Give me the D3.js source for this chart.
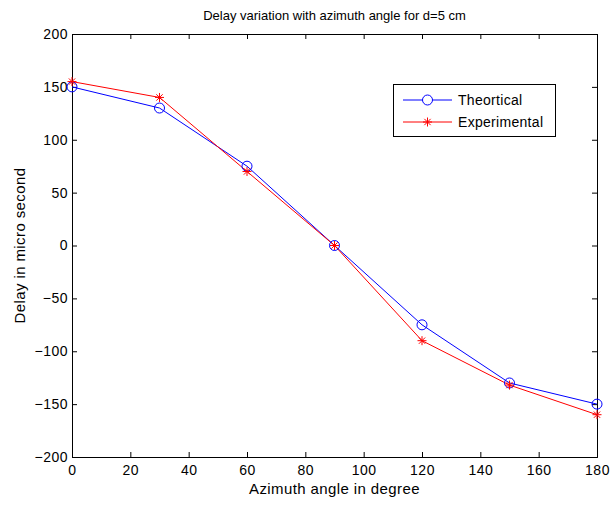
<!DOCTYPE html>
<html><head><meta charset="utf-8">
<script src="https://cdn.jsdelivr.net/npm/d3@7"></script>
<style>body{margin:0;background:#fff}svg{display:block}text{font-family:Arial,"Liberation Sans",sans-serif;fill:#000}</style>
</head><body>
<script>
const angles = [0, 30, 60, 90, 120, 150, 180];
const theoretical = [150, 130, 75, 0, -75, -130, -150];
const experimental = [155, 140, 70, 0, -90, -132, -160];
const xTicks = [0, 20, 40, 60, 80, 100, 120, 140, 160, 180];
const yTicks = [-200, -150, -100, -50, 0, 50, 100, 150, 200];
const seriesNames = ["Theortical", "Experimental"];

const W = 610, H = 507;
const m = {l: 72, r: 13, t: 34, b: 50};
const svg = d3.select("body").append("svg").attr("width", W).attr("height", H);
const x = d3.scaleLinear().domain([0, 180]).range([m.l, W - m.r]);
const y = d3.scaleLinear().domain([-200, 200]).range([H - m.b, m.t]);

const fs = 14;
// axes
const gx = svg.append("g").attr("transform", `translate(0,${H - m.b})`)
  .call(d3.axisBottom(x).tickValues(xTicks).tickSize(-5).tickPadding(8));
const gxt = svg.append("g").attr("transform", `translate(0,${m.t})`)
  .call(d3.axisTop(x).tickValues(xTicks).tickSize(-5).tickFormat(""));
const gy = svg.append("g").attr("transform", `translate(${m.l},0)`)
  .call(d3.axisLeft(y).tickValues(yTicks).tickSize(-5).tickPadding(4));
const gyr = svg.append("g").attr("transform", `translate(${W - m.r},0)`)
  .call(d3.axisRight(y).tickValues(yTicks).tickSize(-5).tickFormat(""));
[gx, gxt, gy, gyr].forEach(g => {
  g.select(".domain").attr("stroke", "#000").attr("stroke-width", 1);
  g.selectAll(".tick line").attr("stroke", "#000");
  g.selectAll("text").attr("font-size", fs).style("letter-spacing", "0.5px")
    .style("font-family", "Arial, 'Liberation Sans', sans-serif");
});

const colors = ["#0000ff", "#ff0000"];
const data = [theoretical, experimental];
const line = d3.line().x((d, i) => x(angles[i])).y(d => y(d));
data.forEach((s, k) => {
  svg.append("path").datum(s).attr("d", line).attr("fill", "none").attr("stroke", colors[k]).attr("stroke-width", 1);
});

function star(g, cx, cy, c, r) {
  const p = d3.path();
  p.moveTo(cx - r, cy); p.lineTo(cx + r, cy);
  p.moveTo(cx, cy - r); p.lineTo(cx, cy + r);
  const a = r * 0.7;
  p.moveTo(cx - a, cy - a); p.lineTo(cx + a, cy + a);
  p.moveTo(cx - a, cy + a); p.lineTo(cx + a, cy - a);
  g.append("path").attr("d", p.toString()).attr("stroke", c).attr("stroke-width", 1).attr("fill", "none");
}

svg.append("g").selectAll("circle").data(theoretical).join("circle")
  .attr("cx", (d, i) => x(angles[i])).attr("cy", d => y(d)).attr("r", 5)
  .attr("fill", "none").attr("stroke", colors[0]);
const sg = svg.append("g");
experimental.forEach((d, i) => star(sg, x(angles[i]), y(d), colors[1], 4.5));

// legend
const lg = svg.append("g");
lg.append("rect").attr("x", 393.5).attr("y", 84.5).attr("width", 162).attr("height", 52)
  .attr("fill", "#fff").attr("stroke", "#000");
seriesNames.forEach((n, k) => {
  const ly = 100 + k * 22;
  lg.append("line").attr("x1", 403).attr("x2", 452).attr("y1", ly).attr("y2", ly).attr("stroke", colors[k]);
  if (k === 0) lg.append("circle").attr("cx", 427.5).attr("cy", ly).attr("r", 5).attr("fill", "#fff").attr("stroke", colors[k]);
  else star(lg, 427.5, ly, colors[k], 4.5);
  lg.append("text").attr("x", 458).attr("y", ly + 5).attr("font-size", fs).style("letter-spacing", "0.3px").text(n);
});

// titles
svg.append("text").attr("x", (m.l + W - m.r) / 2).attr("y", 20).attr("text-anchor", "middle").attr("font-size", 13)
  .text("Delay variation with azimuth angle for d=5 cm");
svg.append("text").attr("x", (m.l + W - m.r) / 2).attr("y", 494).attr("text-anchor", "middle").attr("font-size", 15)
  .style("letter-spacing", "0.4px").text("Azimuth angle in degree");
svg.append("text").attr("transform", `translate(25,${(m.t + H - m.b) / 2}) rotate(-90)`).attr("text-anchor", "middle").attr("font-size", 15)
  .style("letter-spacing", "0.4px").text("Delay in micro second");
</script>
</body></html>
